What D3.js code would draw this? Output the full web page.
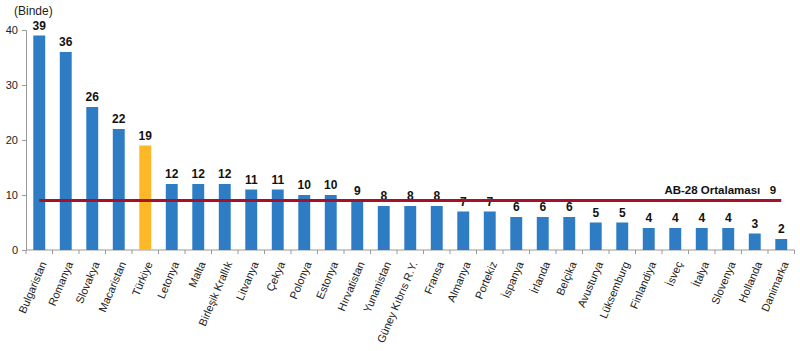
<!DOCTYPE html>
<html>
<head>
<meta charset="utf-8">
<script src="https://cdn.jsdelivr.net/npm/d3@7"></script>
<style>
  body { margin: 0; background: #fff; }
  svg { font-family: "Liberation Sans", Arial, sans-serif; }
</style>
</head>
<body>
<div id="chart"></div>
<script>
// Data
const countries = ['Bulgaristan', 'Romanya', 'Slovakya', 'Macaristan', 'Türkiye', 'Letonya', 'Malta',
    'Birleşik Krallık', 'Litvanya', 'Çekya', 'Polonya', 'Estonya', 'Hırvatistan', 'Yunanistan',
    'Güney Kıbrıs R.Y.', 'Fransa', 'Almanya', 'Portekiz', 'İspanya', 'İrlanda', 'Belçika',
    'Avusturya', 'Lüksemburg', 'Finlandiya', 'İsveç', 'İtalya', 'Slovenya', 'Hollanda', 'Danimarka'];
const values = [39, 36, 26, 22, 19, 12, 12, 12, 11, 11, 10, 10, 9, 8, 8, 8, 7, 7, 6, 6, 6, 5, 5, 4, 4, 4, 4, 3, 2];
const highlight = 'Türkiye';
const average = 9;
const averageLabel = 'AB-28 Ortalaması';
const yTicks = [0, 10, 20, 30, 40];
const unitLabel = '(Binde)';

const width = 800, height = 351;
const margin = [30, 5, 101, 26]; // top, right, bottom, left

const svg = d3.select('#chart').append('svg')
    .attr('width', width)
    .attr('height', height);

const chartW = width - margin[1] - margin[3];
const chartH = height - margin[0] - margin[2];

const chart = svg.append('g')
    .attr('transform', `translate(${margin[3]}, ${margin[0]})`);

const x = d3.scaleBand()
    .domain(countries)
    .range([0, 29 * 26.5])
    .paddingInner(0.55)
    .paddingOuter(0.275);

const y = d3.scaleLinear()
    .domain([0, 40])
    .range([chartH, 0]);

// Y axis
const axisY = chart.append('g')
    .call(d3.axisLeft(y).tickValues(yTicks).tickSize(4).tickPadding(4));
axisY.selectAll('text').style('font-size', '11px').attr('fill', '#222');
axisY.selectAll('line, path').attr('stroke', '#999');

// X axis with ticks at band boundaries
const xAxisG = chart.append('g')
    .attr('transform', `translate(0, ${chartH})`);
xAxisG.append('line')
    .attr('x1', 0).attr('x2', x.range()[1])
    .attr('stroke', '#999');
xAxisG.selectAll('.tk')
    .data(countries.concat(['__end']))
    .join('line')
    .attr('x1', (d, i) => i * x.step())
    .attr('x2', (d, i) => i * x.step())
    .attr('y1', 0).attr('y2', 4)
    .attr('stroke', '#999');
xAxisG.selectAll('text')
    .data(countries)
    .join('text')
    .attr('transform', d => `translate(${x(d) + x.bandwidth() / 2 + 4}, 12) rotate(-67)`)
    .attr('text-anchor', 'end')
    .attr('dy', '0.35em')
    .style('font-size', '11px')
    .attr('fill', '#222')
    .text(d => d);

// Bars
chart.selectAll('.bar')
    .data(countries)
    .join('rect')
    .attr('x', d => x(d))
    .attr('y', (d, i) => y(values[i]))
    .attr('width', x.bandwidth())
    .attr('height', (d, i) => chartH - y(values[i]))
    .attr('fill', d => d === highlight ? '#FDB827' : '#2E7DC4');

// Value labels
chart.selectAll('.val')
    .data(countries)
    .join('text')
    .attr('x', d => x(d) + x.bandwidth() / 2)
    .attr('y', (d, i) => y(values[i]) - 6)
    .attr('text-anchor', 'middle')
    .style('font-size', '12px')
    .style('font-weight', 'bold')
    .attr('fill', '#111')
    .text((d, i) => values[i]);

// Average line
const x0 = x(countries[0]) + x.bandwidth() / 2;
const x1 = x(countries[countries.length - 1]) + x.bandwidth() / 2;
chart.append('line')
    .attr('x1', x0).attr('x2', x1)
    .attr('y1', y(average)).attr('y2', y(average))
    .attr('stroke', '#A8102A')
    .attr('stroke-width', 3);

chart.append('text')
    .attr('x', x1 - 5)
    .attr('y', y(average) - 7)
    .attr('text-anchor', 'end')
    .style('font-size', '11.5px')
    .style('font-weight', 'bold')
    .attr('fill', '#111')
    .attr('xml:space', 'preserve')
    .text(`${averageLabel}   ${average}`);

// Unit label
svg.append('text')
    .attr('x', 14)
    .attr('y', 15)
    .style('font-size', '12px')
    .attr('fill', '#222')
    .text(unitLabel);
</script>
</body>
</html>
